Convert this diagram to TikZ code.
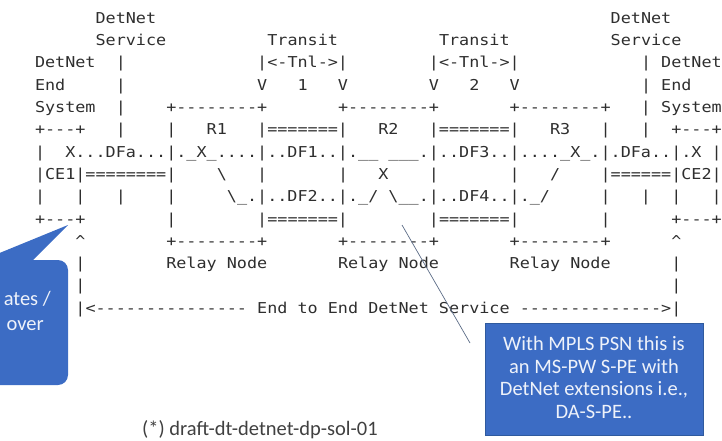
\documentclass[tikz,border=0pt]{standalone}
\usepackage{fontspec}
\usepackage{graphicx}
\setmonofont{DejaVu Sans Mono}
\newfontfamily\calfont{Carlito}
\definecolor{asciigr}{HTML}{2E2E2E}
\definecolor{callb}{HTML}{3C6CC4}
\definecolor{callbd}{HTML}{2F5A9E}
\definecolor{callt}{HTML}{EEF2FA}
\definecolor{leadgr}{HTML}{5B6B86}
\definecolor{notegr}{HTML}{404040}
\newcommand\sk[1]{\hspace*{#1\fontcharwd\font`0}}
\newcommand\ascii[1]{{\fontsize{15}{18}\selectfont\ttfamily\frenchspacing\scalebox{1.1184}[1]{#1}}}

\begin{document}
\begin{tikzpicture}[x=1pt,y=-1pt,
  row/.style={anchor=base west,inner sep=0pt,outer sep=0pt,text=asciigr},
  calltxt/.style={text=callt,inner sep=0pt,font=\calfont\fontsize{20.5}{22.7}\selectfont}]
  \useasboundingbox (0,0) rectangle (722,441);
  \node[row] (ln1) at (35,23.3) {\ascii{\sk{6}DetNet\sk{45}DetNet}};
  \node[row] (ln2) at (35,45.6) {\ascii{\sk{6}Service\sk{10}Transit\sk{10}Transit\sk{10}Service}};
  \node[row] (ln3) at (35,67.9) {\ascii{DetNet\sk{2}|\sk{13}|<-Tnl->|\sk{8}|<-Tnl->|\sk{12}|\sk{1}DetNet}};
  \node[row] (ln4) at (35,90.2) {\ascii{End\sk{5}|\sk{13}V\sk{3}1\sk{3}V\sk{8}V\sk{3}2\sk{3}V\sk{12}|\sk{1}End}};
  \node[row] (ln5) at (35,112.5) {\ascii{System\sk{2}|\sk{4}+--------+\sk{7}+--------+\sk{7}+--------+\sk{3}|\sk{1}System}};
  \node[row] (ln6) at (35,134.8) {\ascii{+---+\sk{3}|\sk{4}|\sk{3}R1\sk{3}|=======|\sk{3}R2\sk{3}|=======|\sk{3}R3\sk{3}|\sk{3}|\sk{2}+---+}};
  \node[row] (ln7) at (35,157.1) {\ascii{|\sk{2}X...DFa...|.\_X\_....|..DF1..|.\_\_\sk{1}\_\_\_.|..DF3..|....\_X\_.|.DFa..|.X\sk{1}|}};
  \node[row] (ln8) at (35,179.4) {\ascii{|CE1|========|\sk{4}\textbackslash\sk{3}|\sk{7}|\sk{3}X\sk{4}|\sk{7}|\sk{3}/\sk{4}|======|CE2|}};
  \node[row] (ln9) at (35,201.7) {\ascii{|\sk{3}|\sk{3}|\sk{4}|\sk{5}\textbackslash\_.|..DF2..|.\_/\sk{1}\textbackslash\_\_.|..DF4..|.\_/\sk{5}|\sk{3}|\sk{2}|\sk{3}|}};
  \node[row] (ln10) at (35,224.0) {\ascii{+---+\sk{8}|\sk{8}|=======|\sk{8}|=======|\sk{8}|\sk{6}+---+}};
  \node[row] (ln11) at (35,246.3) {\ascii{\sk{4}\textasciicircum\sk{8}+--------+\sk{7}+--------+\sk{7}+--------+\sk{6}\textasciicircum}};
  \node[row] (ln12) at (35,268.6) {\ascii{\sk{4}|\sk{8}Relay Node\sk{7}Relay Node\sk{7}Relay Node\sk{6}|}};
  \node[row] (ln13) at (35,290.9) {\ascii{\sk{4}|\sk{58}|}};
  \node[row] (ln14) at (35,313.2) {\ascii{\sk{4}|<---------------\sk{1}End to End DetNet Service\sk{1}-------------->|}};
  \fill[callb,rounded corners=10pt] (-40,260) rectangle (68,385);
  \fill[callb] (-20,261) -- (68,225) -- (32,261) -- cycle;
  \node[calltxt,anchor=base east] (repl1) at (51,305) {ates /};
  \node[calltxt,anchor=base east] (repl2) at (44,330) {over};
  \coordinate (leadtop) at (402,225);
  \coordinate (leadend) at (470,343);
  \draw[leadgr,line width=0.7pt] (leadtop) -- (leadend);
  \node[fill=callb,draw=callbd,line width=0.6pt,minimum width=218pt,minimum height=112pt,inner sep=0pt] (psnnote) at (594,379) {};
  \node[calltxt,align=center] (psntxt) at ([yshift=1.5pt]psnnote.center) {With MPLS PSN this is\\an MS-PW S-PE with\\DetNet extensions i.e.,\\DA-S-PE..};
  \node[anchor=base west,inner sep=0pt,text=notegr,font=\calfont\fontsize{20.5}{24}\selectfont] (draftref) at (142,435.5) {(*) draft-dt-detnet-dp-sol-01};
\end{tikzpicture}
\end{document}
